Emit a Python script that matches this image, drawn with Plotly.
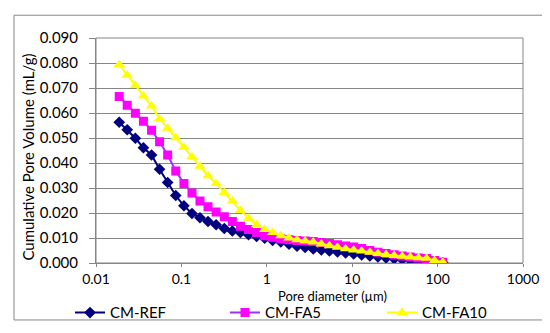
import plotly.graph_objects as go

diameter = [0.0187, 0.0232, 0.0289, 0.0359, 0.0447, 0.0555, 0.0690, 0.0859, 0.107, 0.133,
            0.165, 0.205, 0.255, 0.318, 0.395, 0.491, 0.611, 0.760, 0.945, 1.17,
            1.46, 1.82, 2.26, 2.81, 3.50, 4.35, 5.41, 6.73, 8.37, 10.4,
            12.9, 16.1, 20.0, 24.9, 31.0, 38.5, 47.9, 59.6, 74.1, 92.1, 115]

cm_ref = [0.0563, 0.0533, 0.0499, 0.0461, 0.0432, 0.0375, 0.0322, 0.0270, 0.0229, 0.0198,
          0.0181, 0.0166, 0.0153, 0.0138, 0.0128, 0.0122, 0.0113, 0.0106, 0.0099, 0.0090,
          0.0084, 0.0075, 0.0067, 0.0062, 0.0056, 0.0052, 0.0048, 0.0044, 0.0040, 0.0036,
          0.0032, 0.0028, 0.0024, 0.0020, 0.0017, 0.0014, 0.0011, 0.0008, 0.0005, 0.0003, 0.0001]

cm_fa5 = [0.0666, 0.0631, 0.0599, 0.0567, 0.0531, 0.0485, 0.0432, 0.0368, 0.0318, 0.0280,
          0.0248, 0.0225, 0.0204, 0.0185, 0.0166, 0.0147, 0.0134, 0.0122, 0.0109, 0.0103,
          0.0096, 0.0093, 0.0090, 0.0088, 0.0086, 0.0082, 0.0078, 0.0073, 0.0068, 0.0064,
          0.0058, 0.0050, 0.0043, 0.0038, 0.0033, 0.0028, 0.0024, 0.0020, 0.0018, 0.0010, 0.0003]

cm_fa10 = [0.0793, 0.0751, 0.0710, 0.0668, 0.0628, 0.0577, 0.0539, 0.0501, 0.0463, 0.0425,
           0.0387, 0.0349, 0.0318, 0.0282, 0.0248, 0.0210, 0.0179, 0.0153, 0.0134, 0.0122,
           0.0109, 0.0100, 0.0093, 0.0088, 0.0084, 0.0076, 0.0069, 0.0063, 0.0057, 0.0052,
           0.0048, 0.0043, 0.0038, 0.0034, 0.0030, 0.0027, 0.0024, 0.0021, 0.0019, 0.0010, 0.0003]

series_names = ["CM-REF", "CM-FA5", "CM-FA10"]
x_tickvals = [0.01, 0.1, 1, 10, 100, 1000]
x_ticktext = ["0.01", "0.1", "1", "10", "100", "1000"]
y_tickvals = [0.0, 0.01, 0.02, 0.03, 0.04, 0.05, 0.06, 0.07, 0.08, 0.09]

FONT = "Lato"
FS = 15

L, R, T, B = 88, 35, 30, 66
W, H = 550, 333
pw, ph = W - L - R, H - T - B

def px_x(p):
    return (p - L) / pw

def px_y(p):
    return (H - B - p) / ph

fig = go.Figure()
fig.add_trace(go.Scatter(x=diameter, y=cm_ref, name=series_names[0], mode="lines+markers",
                         legend="legend",
                         line=dict(color="#000080", width=2),
                         marker=dict(symbol="diamond", size=9, color="#000080")))
fig.add_trace(go.Scatter(x=diameter, y=cm_fa5, name=series_names[1], mode="lines+markers",
                         legend="legend2",
                         line=dict(color="#9933FF", width=2),
                         marker=dict(symbol="square", size=9, color="#FF00FF")))
fig.add_trace(go.Scatter(x=diameter, y=cm_fa10, name=series_names[2], mode="lines+markers",
                         legend="legend3",
                         line=dict(color="#FFFF00", width=2),
                         marker=dict(symbol="triangle-up", size=10, color="#FFFF00")))

def leg(xpx):
    return dict(orientation="h", x=px_x(xpx), y=px_y(319.5), xanchor="left", yanchor="middle",
                font=dict(family=FONT, size=FS), bgcolor="rgba(0,0,0,0)")

fig.update_layout(
    width=W, height=H,
    margin=dict(l=L, r=R, t=T, b=B),
    paper_bgcolor="white", plot_bgcolor="white",
    font=dict(family=FONT, size=FS, color="#000000"),
    showlegend=True,
    legend=leg(62), legend2=leg(217), legend3=leg(374),
    xaxis=dict(type="log", range=[-2, 3], tickvals=x_tickvals, ticktext=x_ticktext,
               showgrid=False, showline=True, linecolor="#868686", linewidth=1,
               ticks="outside", ticklen=3, tickcolor="#868686", automargin=False,
               zeroline=False, tickfont=dict(size=14)),
    yaxis=dict(range=[0, 0.09], tickvals=y_tickvals, tickformat=".3f",
               showgrid=True, gridcolor="#868686", gridwidth=1,
               showline=True, linecolor="#868686", linewidth=1,
               ticks="outside", ticklen=6, tickcolor="#868686", ticklabelstandoff=8,
               zeroline=False, tickfont=dict(size=FS), automargin=False),
    shapes=[
        dict(type="rect", xref="paper", yref="paper", x0=0, x1=1, y0=0, y1=1,
             line=dict(color="#868686", width=1), fillcolor="rgba(0,0,0,0)", layer="below"),
        dict(type="rect", xref="paper", yref="paper", x0=px_x(6), x1=px_x(544), y0=px_y(327), y1=px_y(6),
             line=dict(color="#868686", width=1), fillcolor="rgba(0,0,0,0)"),
    ],
    annotations=[
        dict(text="Pore diameter (µm)", xref="paper", yref="paper", x=px_x(324), y=px_y(302),
             xanchor="center", yanchor="middle", showarrow=False, font=dict(size=13),
             borderpad=0, borderwidth=0),
        dict(text="Cumulative Pore Volume (mL/g)", xref="paper", yref="paper", x=px_x(20), y=px_y(156),
             xanchor="center", yanchor="middle", showarrow=False, textangle=-90, font=dict(size=FS)),
    ],
)

fig.write_html("out.html")
